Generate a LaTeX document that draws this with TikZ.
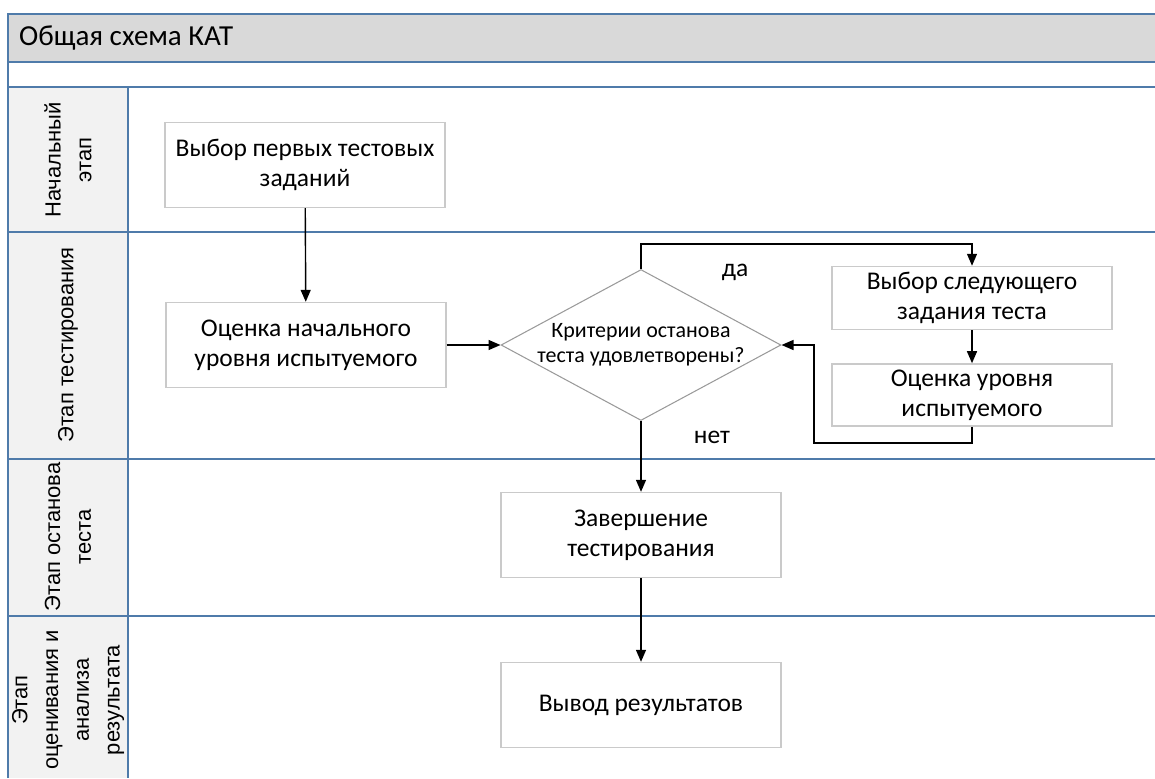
\documentclass[tikz,border=0pt]{standalone}
\usepackage{fontspec}
\setmainfont{Carlito}
\newfontfamily\lanefont{Liberation Sans}
\usetikzlibrary{arrows.meta,positioning,shapes.geometric}
\definecolor{laneline}{HTML}{4F7BAA}
\definecolor{headfill}{HTML}{D9D9D9}
\definecolor{labelfill}{HTML}{F2F2F2}
\definecolor{boxline}{HTML}{CACACA}
\definecolor{diamline}{HTML}{9A9A9A}
\tikzset{
task/.style={draw=boxline,line width=.8pt,fill=white,minimum width=5.6cm,minimum height=1.7cm,align=center,font=\fontsize{14.5}{17}\selectfont},
smalltask/.style={task,minimum height=1.2cm},
decision/.style={draw=diamline,line width=.6pt,diamond,aspect=1.855,minimum width=5.6cm,minimum height=3.02cm,inner sep=-8pt,align=center,font=\fontsize{12.5}{14}\selectfont},
lanelabel/.style={rotate=90,align=center,font=\lanefont\fontsize{12.5}{17.5}\selectfont},
lane/.style={draw=laneline,line width=1.1pt},
flow/.style={-{Triangle[length=2.4mm,width=2mm]},line width=.8pt},
branch/.style={font=\fontsize{14.5}{17}\selectfont}
}
\begin{document}
\begin{tikzpicture}[x=0.02cm,y=-0.02cm]
\useasboundingbox (0,0) rectangle (1155,778);
% pool and lanes
\fill[headfill] (8,14) rectangle (1155,62);
\fill[labelfill] (8,87) rectangle (128,778);
\draw[lane] (8,778) -- (8,14) -- (1155,14);
\foreach \y in {62,87,232,459,616} \draw[lane] (8,\y) -- (1155,\y);
\draw[lane] (128,87) -- (128,778);
\node[anchor=west,font=\fontsize{16.5}{19}\selectfont] (title) at (13,38) {Общая схема КАТ};
\node[lanelabel] (l1) at (68,160) {Начальный\\этап};
\node[lanelabel] (l2) at (68,345) {Этап тестирования};
\node[lanelabel] (l3) at (68,537) {Этап останова\\теста};
\node[lanelabel] (l4) at (68,700) {Этап\\оценивания и\\анализа\\результата};
% steps
\node[task] (first) at (305,165) {Выбор первых тестовых\\заданий};
\node[task] (init) at (306,345) {Оценка начального\\уровня испытуемого};
\node[decision] (crit) at (641,345) {Критерии останова\\теста удовлетворены?};
\node[smalltask] (next) at (972,298) {Выбор следующего\\задания теста};
\node[smalltask] (level) at (972,395) {Оценка уровня\\испытуемого};
\node[task] (stop) at (641,535) {Завершение\\тестирования};
\node[task] (out) at (641,705) {Вывод результатов};
% connectors
\draw[flow] (first) -- (init);
\draw[flow] (init) -- (crit);
\draw[flow] (crit.north) |- (806,244) -| (next.north);
\draw[flow] (next) -- (level);
\draw[flow] (level.south) -- (972,443) -| (814,345) -- (crit.east);
\draw[flow] (crit.south) -- (stop.north);
\draw[flow] (stop) -- (out);
\node[branch] (yes) at (735,272) {да};
\node[branch] (no) at (712,437) {нет};
\end{tikzpicture}
\end{document}
